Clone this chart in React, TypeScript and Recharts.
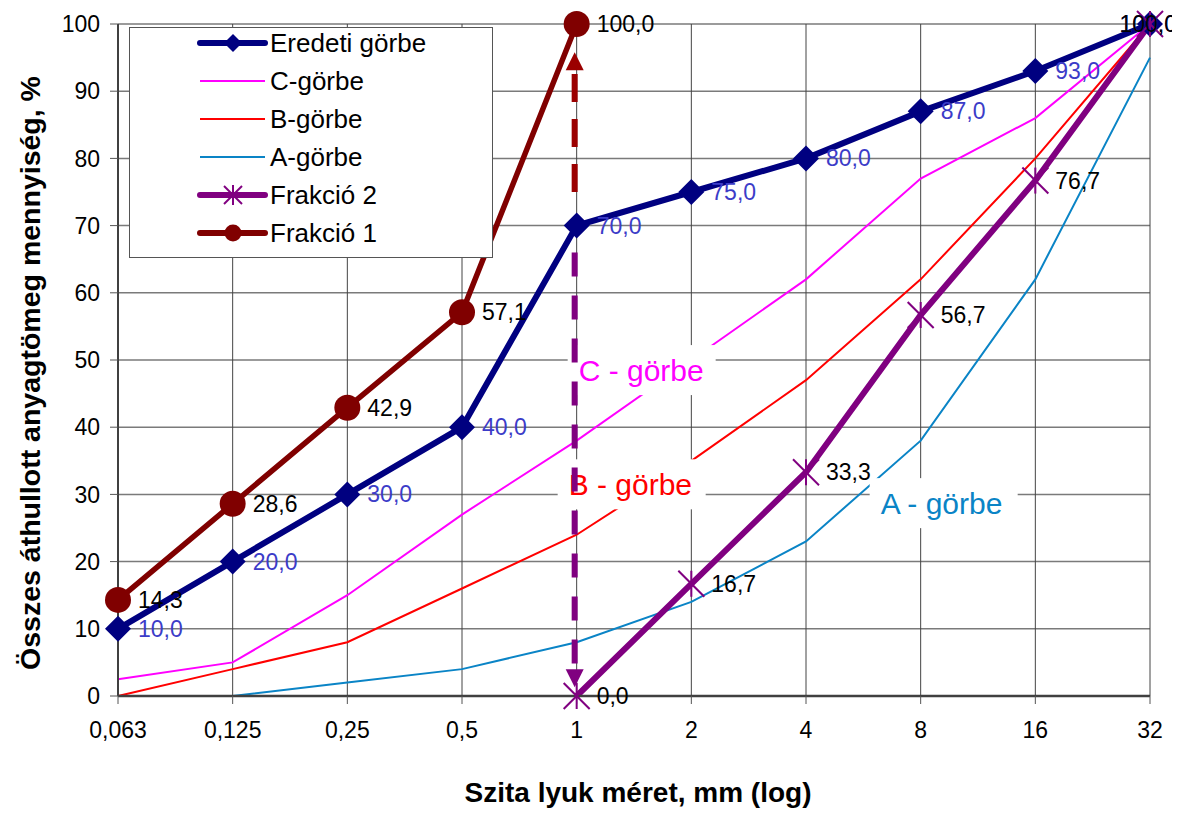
import React from "react";
import {
  LineChart,
  Line,
  XAxis,
  YAxis,
  CartesianGrid,
  Legend,
  LabelList,
  ReferenceLine,
  ReferenceDot,
} from "recharts";

// sieve sizes, mm (log steps)
const sizes = ["0,063", "0,125", "0,25", "0,5", "1", "2", "4", "8", "16", "32"];

// passing mass, %
const eredeti = [10, 20, 30, 40, 70, 75, 80, 87, 93, 100];
const cGorbe = [2.5, 5, 15, 27, 38, 50, 62, 77, 86, 100];
const bGorbe = [0, 4, 8, 16, 24, 35, 47, 62, 80, 100];
const aGorbe = [0, 0, 2, 4, 8, 14, 23, 38, 62, 95];
const frakcio2 = [null, null, null, null, 0, 16.7, 33.3, 56.7, 76.7, 100];
const frakcio1 = [14.3, 28.6, 42.9, 57.1, 100, null, null, null, null, null];

const yTicks = [0, 10, 20, 30, 40, 50, 60, 70, 80, 90, 100];

const NAVY = "#000080";
const MAGENTA = "#ff00ff";
const RED = "#ff0000";
const TEAL = "#0a84c6";
const PURPLE = "#800080";
const MAROON = "#800000";
const ARROW_RED = "#9b0000";
const BLUE_LABEL = "#3c3cc8";
const FONT = "'Liberation Sans', Arial, sans-serif";

const data = sizes.map((size, i) => ({
  size,
  eredeti: eredeti[i],
  c: cGorbe[i],
  b: bGorbe[i],
  a: aGorbe[i],
  f2: frakcio2[i],
  f1: frakcio1[i],
}));

const fmt = (v: number) => v.toFixed(1).replace(".", ",");

const valueLabel = (color: string) => (props: any) => {
  const { x, y, value, index } = props;
  if (value == null || y == null) return null;
  const last = index === sizes.length - 1;
  return (
    <text
      x={last ? x + 27 : x + 20}
      y={y}
      textAnchor={last ? "end" : "start"}
      dominantBaseline="central"
      fill={color}
      fontSize={23}
      fontFamily={FONT}
    >
      {fmt(value)}
    </text>
  );
};

const diamondDot = (p: any) => {
  if (p.value == null || p.cy == null) return <g key={p.key} />;
  const s = 13;
  return (
    <polygon
      key={p.key}
      points={`${p.cx},${p.cy - s} ${p.cx + s},${p.cy} ${p.cx},${p.cy + s} ${p.cx - s},${p.cy}`}
      fill={NAVY}
    />
  );
};

const circleDot = (p: any) => {
  if (p.value == null || p.cy == null) return <g key={p.key} />;
  return <circle key={p.key} cx={p.cx} cy={p.cy} r={13} fill={MAROON} />;
};

const starDot = (p: any) => {
  if (p.value == null || p.cy == null) return <g key={p.key} />;
  const s = 13;
  const { cx, cy } = p;
  return (
    <g key={p.key} stroke={PURPLE} strokeWidth={2}>
      <line x1={cx - s} y1={cy - s} x2={cx + s} y2={cy + s} />
      <line x1={cx - s} y1={cy + s} x2={cx + s} y2={cy - s} />
      <line x1={cx} y1={cy - s} x2={cx} y2={cy + s} />
    </g>
  );
};

// white boxed curve names inside the plot
const tagShape = (text: string, color: string, dx: number) => (p: any) => (
  <g>
    <rect x={p.cx + dx - 11} y={p.cy - 25} width={148} height={50} fill="#fff" />
    <text
      x={p.cx + dx}
      y={p.cy}
      dominantBaseline="central"
      fill={color}
      fontSize={30}
      fontFamily={FONT}
    >
      {text}
    </text>
  </g>
);

// dashed arrow, head at the second segment point
const arrowShape = (color: string, dash: string) => (p: any) => {
  const { x1, y1, x2, y2 } = p;
  const dir = y2 < y1 ? -1 : 1;
  const head = 18;
  const x = x1 - 2;
  return (
    <g>
      <line
        x1={x}
        y1={y1}
        x2={x}
        y2={y2 - dir * head}
        stroke={color}
        strokeWidth={6}
        strokeDasharray={dash}
      />
      <polygon
        points={`${x},${y2} ${x - 9},${y2 - dir * head} ${x + 9},${y2 - dir * head}`}
        fill={color}
      />
    </g>
  );
};

const legendItems = [
  { name: "Eredeti görbe", color: NAVY, width: 6, marker: "diamond" },
  { name: "C-görbe", color: MAGENTA, width: 2, marker: "" },
  { name: "B-görbe", color: RED, width: 2, marker: "" },
  { name: "A-görbe", color: TEAL, width: 2, marker: "" },
  { name: "Frakció 2", color: PURPLE, width: 6, marker: "star" },
  { name: "Frakció 1", color: MAROON, width: 6, marker: "circle" },
];

function ChartLegend() {
  return (
    <div
      style={{
        width: 364,
        height: 231,
        boxSizing: "border-box",
        border: "1px solid #555",
        background: "#fff",
      }}
    >
      <svg width={362} height={229} style={{ display: "block" }}>
        {legendItems.map((it, i) => {
          const y = 15 + i * 38;
          const mx = 103;
          return (
            <g key={it.name}>
              <line
                x1={70}
                y1={y}
                x2={135}
                y2={y}
                stroke={it.color}
                strokeWidth={it.width}
                strokeLinecap={it.width > 2 ? "round" : "butt"}
              />
              {it.marker === "diamond" && (
                <polygon
                  points={`${mx},${y - 9} ${mx + 9},${y} ${mx},${y + 9} ${mx - 9},${y}`}
                  fill={it.color}
                />
              )}
              {it.marker === "circle" && <circle cx={mx} cy={y} r={8.5} fill={it.color} />}
              {it.marker === "star" && (
                <g stroke={it.color} strokeWidth={2}>
                  <line x1={mx - 9} y1={y - 9} x2={mx + 9} y2={y + 9} />
                  <line x1={mx - 9} y1={y + 9} x2={mx + 9} y2={y - 9} />
                  <line x1={mx} y1={y - 10} x2={mx} y2={y + 10} />
                </g>
              )}
              <text
                x={140}
                y={y}
                dominantBaseline="central"
                fontSize={26}
                fontFamily={FONT}
                fill="#000"
              >
                {it.name}
              </text>
            </g>
          );
        })}
      </svg>
    </div>
  );
}

export default function App() {
  return (
    <div style={{ width: 1172, height: 806 }}>
      <LineChart
        width={1172}
        height={806}
        data={data}
        margin={{ top: 16, right: 30, bottom: 18, left: 50 }}
        style={{ fontFamily: FONT }}
      >
        <CartesianGrid
          horizontal={(p: any) => (
            <line key={p.key} x1={p.x1} y1={p.y1} x2={p.x2} y2={p.y2} stroke="#7a7a7a" strokeWidth={1.5} />
          )}
          vertical={(p: any) => (
            <line key={p.key} x1={p.x1} y1={p.y1} x2={p.x2} y2={p.y2} stroke="#444" strokeWidth={1} />
          )}
        />
        <XAxis
          dataKey="size"
          type="category"
          scale="point"
          padding={{ left: 0, right: 0 }}
          interval={0}
          height={100}
          tickSize={8}
          tickMargin={18}
          tick={{ fontSize: 23, fill: "#000", fontFamily: FONT }}
          tickLine={{ stroke: "#555" }}
          axisLine={{ stroke: "#404040", strokeWidth: 2.5 }}
          label={(p: any) => {
            const vb = p.viewBox;
            return (
              <text
                x={vb.x + vb.width / 2 + 4}
                y={vb.y + 96}
                textAnchor="middle"
                dominantBaseline="central"
                fontSize={28}
                fontWeight="bold"
                fontFamily={FONT}
                fill="#000"
              >
                Szita lyuk méret, mm (log)
              </text>
            );
          }}
        />
        <YAxis
          type="number"
          domain={[0, 100]}
          ticks={yTicks}
          interval={0}
          width={60}
          tickSize={8}
          tickMargin={10}
          tick={{ fontSize: 23, fill: "#000", fontFamily: FONT }}
          tickLine={{ stroke: "#555" }}
          axisLine={{ stroke: "#404040", strokeWidth: 2 }}
          label={(p: any) => {
            const vb = p.viewBox;
            const x = vb.x - 28;
            const y = vb.y + vb.height / 2 + 13;
            return (
              <text
                x={x}
                y={y}
                transform={`rotate(-90, ${x}, ${y})`}
                textAnchor="middle"
                dominantBaseline="central"
                fontSize={28.5}
                fontWeight="bold"
                fontFamily={FONT}
                fill="#000"
              >
                Összes áthullott anyagtömeg mennyiség, %
              </text>
            );
          }}
        />
        <Legend
          layout="vertical"
          align="center"
          verticalAlign="middle"
          wrapperStyle={{ left: 121, top: 19, width: 364, height: 231 }}
          content={() => <ChartLegend />}
        />

        <Line dataKey="eredeti" name="Eredeti görbe" stroke={NAVY} strokeWidth={6} dot={diamondDot} activeDot={false} isAnimationActive={false}>
          <LabelList dataKey="eredeti" content={valueLabel(BLUE_LABEL)} />
        </Line>
        <Line dataKey="c" name="C-görbe" stroke={MAGENTA} strokeWidth={2} dot={false} activeDot={false} isAnimationActive={false} />
        <Line dataKey="b" name="B-görbe" stroke={RED} strokeWidth={2} dot={false} activeDot={false} isAnimationActive={false} />
        <Line dataKey="a" name="A-görbe" stroke={TEAL} strokeWidth={2} dot={false} activeDot={false} isAnimationActive={false} />
        <Line dataKey="f2" name="Frakció 2" stroke={PURPLE} strokeWidth={6} dot={starDot} activeDot={false} isAnimationActive={false}>
          <LabelList dataKey="f2" content={valueLabel("#000")} />
        </Line>
        <Line dataKey="f1" name="Frakció 1" stroke={MAROON} strokeWidth={5.5} dot={circleDot} activeDot={false} isAnimationActive={false}>
          <LabelList dataKey="f1" content={valueLabel("#000")} />
        </Line>

        <ReferenceDot x="1" y={48.5} r={0} ifOverflow="visible" zIndex={1500} shape={tagShape("C - görbe", MAGENTA, 2)} />
        <ReferenceDot x="1" y={31.5} r={0} ifOverflow="visible" zIndex={1500} shape={tagShape("B - görbe", RED, -8)} />
        <ReferenceDot x="8" y={28.7} r={0} ifOverflow="visible" zIndex={1500} shape={tagShape("A - görbe", TEAL, -40)} />

        <ReferenceLine
          segment={[{ x: "1", y: 75 }, { x: "1", y: 95.8 }]}
          ifOverflow="visible"
          zIndex={1600}
          shape={arrowShape(ARROW_RED, "28 17")}
        />
        <ReferenceLine
          segment={[{ x: "1", y: 66 }, { x: "1", y: 1.3 }]}
          ifOverflow="visible"
          zIndex={1600}
          shape={arrowShape(PURPLE, "24 19")}
        />
      </LineChart>
    </div>
  );
}
